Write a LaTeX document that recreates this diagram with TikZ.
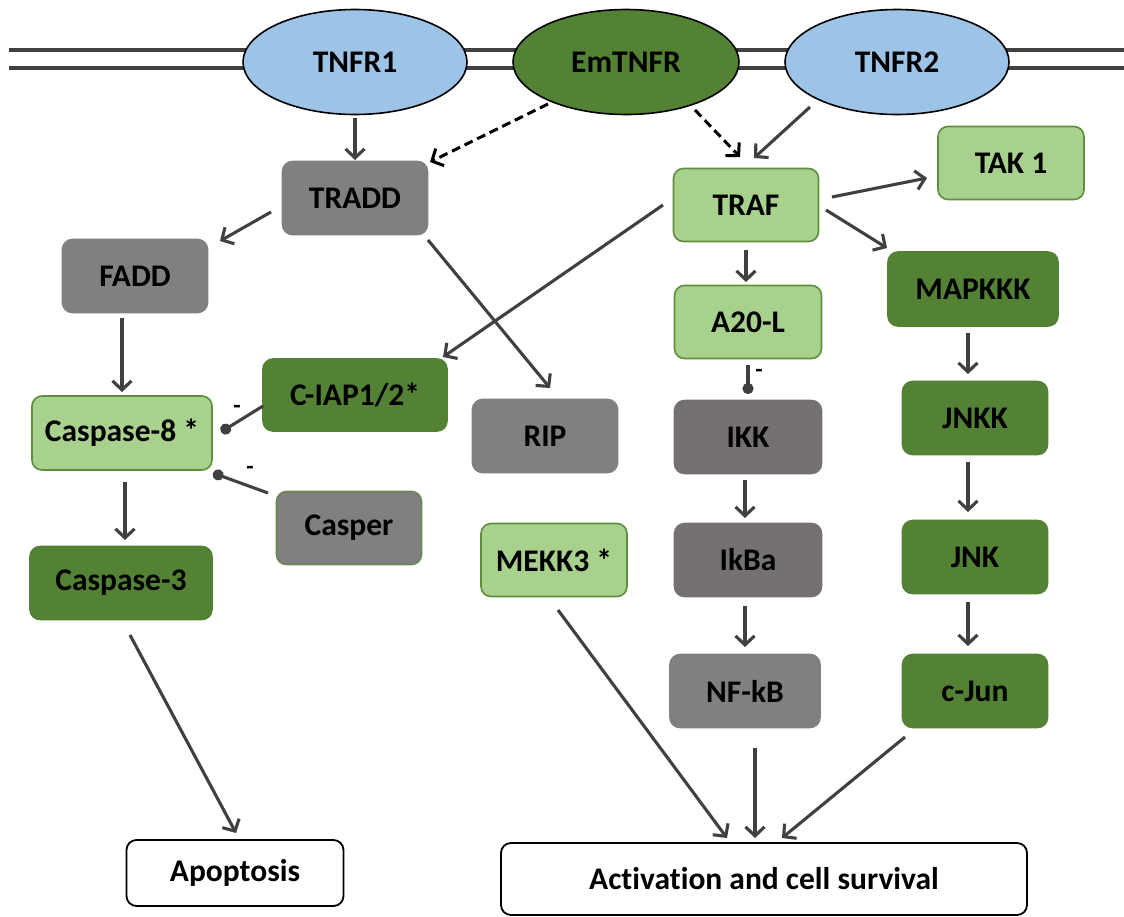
\documentclass[tikz,border=0pt]{standalone}
\usepackage{fontspec}
\setmainfont{Carlito}[RawFeature=-liga]
\usetikzlibrary{shapes.geometric,arrows.meta,calc}
\definecolor{lgreen}{HTML}{A9D18E}
\definecolor{dgreen}{HTML}{548235}
\definecolor{bgreen}{HTML}{5E8E3E}
\definecolor{bgray}{HTML}{808080}
\definecolor{dgray}{HTML}{767171}
\definecolor{lblue}{HTML}{9DC3E6}
\definecolor{lnc}{HTML}{404040}
\tikzset{
  box/.style={rounded corners=10pt, minimum width=145pt, minimum height=73pt, line width=1.6pt, inner sep=0pt, font=\fontsize{31.5}{36}\selectfont\bfseries, text=black},
  graybox/.style={box, fill=bgray, draw=bgray},
  darkgraybox/.style={box, fill=dgray, draw=dgray},
  lgbox/.style={box, fill=lgreen, draw=bgreen},
  dgbox/.style={box, fill=dgreen, draw=dgreen},
  whitebox/.style={box, fill=white, draw=black, line width=1.8pt},
  receptor/.style={ellipse, draw=black, line width=1.6pt, inner sep=0pt, minimum width=224pt, minimum height=105pt, font=\fontsize{31.5}{36}\selectfont\bfseries},
  arr/.style={draw=lnc, line width=3.1pt, -{Straight Barb[length=9pt,width=19pt,line width=3.1pt]}},
  darr/.style={draw=black, line width=3pt, dash pattern=on 9pt off 5pt, -{Straight Barb[length=9pt,width=19pt,line width=3pt]}},
  inh/.style={draw=lnc, line width=3.1pt, -{Circle[length=11pt,width=11pt]}},
  minus/.style={font=\fontsize{24}{28}\selectfont\bfseries, inner sep=0pt}
}
\begin{document}
\begin{tikzpicture}[x=1pt,y=-1pt]
\useasboundingbox (0,0) rectangle (1124,916);
% membrane
\draw[lnc, line width=3.8pt] (9,50) -- (1124,50);
\draw[lnc, line width=3.8pt] (9,68) -- (1124,68);
% receptors
\node[receptor, fill=lblue] (tnfr1) at (355,62) {TNFR1};
\node[receptor, fill=dgreen, minimum width=226pt] (emtnfr) at (626,62) {EmTNFR};
\node[receptor, fill=lblue] (tnfr2) at (897,62) {TNFR2};
% boxes
\node[graybox] (tradd) at (355,198) {TRADD};
\node[graybox] (fadd) at (135,276) {FADD};
\node[lgbox, minimum width=180pt, minimum height=74pt] (casp8) at (122,433) {Caspase-8 *};
\node[dgbox, minimum width=184pt, minimum height=72pt] (ciap) at (355,395) {C-IAP1/2*};
\node[graybox, draw=bgreen!70!bgray] (casper) at (349,528) {Casper};
\node[dgbox, minimum width=182pt] (casp3) at (121,583) {Caspase-3};
\node[graybox] (rip) at (545,436) {RIP};
\node[lgbox, minimum width=146pt] (mekk3) at (554,560) {MEKK3 *};
\node[lgbox] (traf) at (746,205) {TRAF};
\node[lgbox, minimum width=146pt] (tak1) at (1011,163) {TAK 1};
\node[lgbox, minimum width=147pt] (a20) at (748,322) {A20-L};
\node[darkgraybox, minimum width=147pt] (ikk) at (748,437) {IKK};
\node[darkgraybox, minimum width=147pt] (ikba) at (748,560) {IkBa};
\node[graybox, minimum width=150pt] (nfkb) at (745,691) {NF-kB};
\node[dgbox, minimum width=170pt, minimum height=74pt] (mapkkk) at (973,289) {MAPKKK};
\node[dgbox] (jnkk) at (975,418) {JNKK};
\node[dgbox] (jnk) at (975,557) {JNK};
\node[dgbox] (cjun) at (975,691) {c-Jun};
\node[whitebox, minimum width=217pt, minimum height=66pt] (apop) at (235,873) {Apoptosis};
\node[whitebox, minimum width=526pt, minimum height=72pt] (act) at (764,879) {Activation and cell survival};
% connectors
\draw[arr] ($(tnfr1.center)+(0,56)$) -- ($(tradd.center)+(0,-38)$);
\draw[darr] ($(emtnfr.center)+(-78,42)$) -- ($(tradd.center)+(75,-36)$);
\draw[darr] ($(emtnfr.center)+(69,48)$) -- ($(traf.center)+(-6,-48)$);
\draw[arr] ($(tnfr2.center)+(-87,45)$) -- ($(traf.center)+(8,-47)$);
\draw[arr] ($(traf.center)+(86,-8)$) -- ($(tak1.center)+(-84,15)$);
\draw[arr] ($(traf.center)+(80,5)$) -- ($(mapkkk.center)+(-86,-41)$);
\draw[arr] ($(traf.center)+(-83,0)$) -- ($(ciap.center)+(88,-38)$);
\draw[arr] ($(traf.center)+(0,45)$) -- ($(a20.center)+(-2,-40)$);
\draw[inh] ($(a20.center)+(0,43)$) -- ($(ikk.center)+(0,-43)$);
\node[minus] (m1) at ($(a20.center)+(11,51)$) {-};
\draw[arr] ($(tradd.center)+(-84,14)$) -- ($(fadd.center)+(85,-35)$);
\draw[arr] ($(tradd.center)+(73,42)$) -- ($(rip.center)+(5,-48)$);
\draw[arr] ($(fadd.center)+(-13,42)$) -- ($(casp8.center)+(0,-41)$);
\draw[inh] ($(ciap.center)+(-92,11)$) -- ($(casp8.center)+(99,-1)$);
\node[minus] (m2) at (237,409) {-};
\draw[inh] ($(casper.center)+(-81,-35)$) -- ($(casp8.center)+(91,40)$);
\node[minus] (m3) at (250,470) {-};
\draw[arr] ($(casp8.center)+(3,49)$) -- ($(casp3.center)+(4,-43)$);
\draw[arr] ($(casp3.center)+(9,52)$) -- ($(apop.center)+(1,-40)$);
\draw[arr] ($(mapkkk.center)+(-5,44)$) -- ($(jnkk.center)+(-7,-44)$);
\draw[arr] ($(jnkk.center)+(-7,44)$) -- ($(jnk.center)+(-7,-45)$);
\draw[arr] ($(jnk.center)+(-7,45)$) -- ($(cjun.center)+(-7,-45)$);
\draw[arr] ($(ikk.center)+(-3,43)$) -- ($(ikba.center)+(-3,-42)$);
\draw[arr] ($(ikba.center)+(-3,46)$) -- ($(nfkb.center)+(0,-44)$);
\draw[arr] ($(mekk3.center)+(4,50)$) -- ($(act.center)+(-37,-41)$);
\draw[arr] ($(nfkb.center)+(10,57)$) -- ($(act.center)+(-9,-41)$);
\draw[arr] ($(cjun.center)+(-70,46)$) -- ($(act.center)+(18,-41)$);
\end{tikzpicture}
\end{document}
